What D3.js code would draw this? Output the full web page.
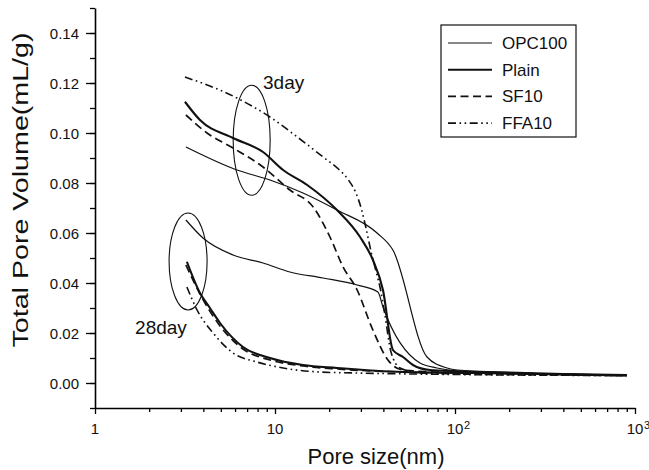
<!DOCTYPE html>
<html>
<head>
<meta charset="utf-8">
<script src="https://cdn.jsdelivr.net/npm/d3@7"></script>
<style>
body { margin: 0; background: #fff; }
text { font-family: "Liberation Sans", Arial, sans-serif; fill: #111; }
</style>
</head>
<body>
<div id="chart"></div>
<script>
// pore size (nm) / total pore volume (mL/g)
var opc100_3d = [[3.2,0.0944],[6.15,0.0852],[9.38,0.0812],[14.3,0.076],[22.1,0.0692],[36.9,0.060],[45.2,0.0532],[69.9,0.0104],[90.3,0.006],[103,0.0052],[200,0.0042],[400,0.0036],[900,0.0032]];
var plain_3d = [[3.16,0.1125],[3.83,0.1052],[5.85,0.098],[8.58,0.0924],[11.1,0.0852],[15.1,0.0792],[22.1,0.0692],[29.7,0.0584],[35.0,0.0492],[39.8,0.0372],[45.2,0.0132],[51.4,0.0104],[58.4,0.0072],[72.6,0.0052],[150,0.0044],[400,0.0036],[900,0.0032]];
var sf10_3d = [[3.2,0.1072],[4.19,0.100],[5.85,0.094],[8.58,0.0864],[12.1,0.0772],[16.3,0.0704],[20.2,0.0584],[23.9,0.0464],[28.6,0.0372],[34.6,0.022],[42.4,0.0092],[51.4,0.0052],[80,0.0044],[200,0.0038],[900,0.003]];
var ffa10_3d = [[3.16,0.1224],[6.15,0.114],[9.38,0.1064],[13.3,0.0984],[18.5,0.0904],[22.5,0.0856],[25.6,0.0812],[28.0,0.0764],[30.2,0.0696],[32.2,0.0612],[34.2,0.0524],[36.5,0.0444],[38.5,0.0376],[40.8,0.0272],[44.1,0.0124],[49.5,0.006],[63.9,0.004],[100,0.0036],[300,0.0032],[900,0.003]];

var opc100_28d = [[3.2,0.0652],[3.98,0.058],[5.85,0.0512],[8.58,0.048],[12.1,0.0444],[18.5,0.042],[28.6,0.0392],[37.3,0.0364],[39.8,0.0304],[63.9,0.008],[79.4,0.006],[103,0.0048],[200,0.004],[400,0.0035],[900,0.0031]];
var plain_28d = [[3.24,0.0485],[3.83,0.036],[4.35,0.030],[4.95,0.024],[6.64,0.0144],[9.38,0.010],[14.3,0.0072],[22.1,0.006],[51.4,0.0044],[150,0.004],[400,0.0034],[900,0.003]];
var sf10_28d = [[3.2,0.0472],[3.83,0.0356],[4.95,0.0228],[6.64,0.0136],[9.38,0.0092],[14.3,0.0068],[22.1,0.0056],[51.4,0.0044],[150,0.0039],[400,0.0033],[900,0.003]];
var ffa10_28d = [[3.24,0.0384],[3.69,0.0292],[4.53,0.020],[5.85,0.012],[7.94,0.0084],[11.1,0.006],[17.8,0.0044],[28.6,0.004],[100,0.0034],[900,0.003]];

var seriesNames = ["OPC100", "Plain", "SF10", "FFA10"];
var xTickLabels = [["1",""],["10",""],["10","2"],["10","3"]];
var yTicks = [0, 0.02, 0.04, 0.06, 0.08, 0.10, 0.12, 0.14];

var styles = {
  OPC100: {width: 1.2, dash: null},
  Plain:  {width: 2.1, dash: null},
  SF10:   {width: 1.7, dash: "8,4.5"},
  FFA10:  {width: 1.6, dash: "8,3.5,1.6,3.5,1.6,3.5"}
};

var curves = [
  {name: "OPC100", data: opc100_3d}, {name: "Plain", data: plain_3d},
  {name: "SF10", data: sf10_3d}, {name: "FFA10", data: ffa10_3d},
  {name: "OPC100", data: opc100_28d}, {name: "Plain", data: plain_28d},
  {name: "SF10", data: sf10_28d}, {name: "FFA10", data: ffa10_28d}
];

var width = 649, height = 470;

var x = d3.scaleLog()
  .domain([1, 1000])
  .range([95, 635]);

var y = d3.scaleLinear()
  .domain([-0.01, 0.15])
  .range([408, 8]);

var svg = d3.select("#chart").append("svg")
  .attr("width", width)
  .attr("height", height);

// y axis with minor ticks
var yMinor = d3.range(-0.01, 0.151, 0.01).map(function(d) { return +d.toFixed(2); });
svg.append("g")
  .attr("transform", "translate(" + x(1) + ",0)")
  .call(d3.axisLeft(y).tickValues(yMinor).tickSize(5).tickFormat(""))
  .call(function(g) { g.select(".domain").remove(); });

var yAxis = svg.append("g")
  .attr("transform", "translate(" + x(1) + ",0)")
  .call(d3.axisLeft(y).tickValues(yTicks).tickSize(9).tickSizeOuter(0).tickPadding(7)
    .tickFormat(d3.format(".2f")));
yAxis.selectAll("text").style("font-size", "15px").attr("dy", "0.35em");

// x axis with log minor ticks
var xMinor = [];
[1, 10, 100].forEach(function(p) {
  for (var k = 2; k <= 9; k++) xMinor.push(p * k);
});
svg.append("g")
  .attr("transform", "translate(0," + y(-0.01) + ")")
  .call(d3.axisBottom(x).tickValues(xMinor).tickSize(4).tickFormat(""))
  .call(function(g) { g.select(".domain").remove(); });

var xAxis = svg.append("g")
  .attr("transform", "translate(0," + y(-0.01) + ")")
  .call(d3.axisBottom(x).tickValues([1, 10, 100, 1000]).tickSize(6).tickSizeOuter(0).tickFormat(""));

svg.selectAll(".domain").attr("stroke-width", 1.6);
svg.selectAll(".tick line").attr("stroke-width", 1.3);

// tick labels: base centred on the tick, exponent after it
var xl = svg.append("g").selectAll("g")
  .data([1, 10, 100, 1000])
  .enter().append("g")
  .attr("transform", function(d) { return "translate(" + x(d) + ",434)"; });
xl.append("text")
  .attr("text-anchor", "middle")
  .style("font-size", "15px")
  .text(function(d, i) { return xTickLabels[i][0]; });
xl.append("text")
  .attr("x", 9)
  .attr("y", -5)
  .style("font-size", "11px")
  .text(function(d, i) { return xTickLabels[i][1]; });

// axis titles
svg.append("text")
  .attr("x", 376)
  .attr("y", 464)
  .attr("text-anchor", "middle")
  .style("font-size", "22px")
  .text("Pore size(nm)");

svg.append("text")
  .attr("transform", "translate(28,190) rotate(-90)")
  .attr("text-anchor", "middle")
  .attr("textLength", 315)
  .attr("lengthAdjust", "spacingAndGlyphs")
  .style("font-size", "22px")
  .text("Total Pore Volume(mL/g)");

// curves
var line = d3.line()
  .x(function(d) { return x(d[0]); })
  .y(function(d) { return y(d[1]); })
  .curve(d3.curveMonotoneX);

svg.append("g").selectAll("path")
  .data(curves)
  .enter().append("path")
  .attr("d", function(d) { return line(d.data); })
  .attr("fill", "none")
  .attr("stroke", "#111")
  .attr("stroke-width", function(d) { return styles[d.name].width; })
  .attr("stroke-dasharray", function(d) { return styles[d.name].dash; });

// annotation ellipses and labels
var notes = [
  {label: "3day", cx: 7.42, cy: 0.0971, rx: 18.5, ry: 55, tx: 8.58, ty: 0.1176},
  {label: "28day", cx: 3.29, cy: 0.0486, rx: 19, ry: 48.5, tx: 1.67, ty: 0.0195}
];
svg.append("g").selectAll("ellipse")
  .data(notes)
  .enter().append("ellipse")
  .attr("cx", function(d) { return x(d.cx); })
  .attr("cy", function(d) { return y(d.cy); })
  .attr("rx", function(d) { return d.rx; })
  .attr("ry", function(d) { return d.ry; })
  .attr("fill", "none")
  .attr("stroke", "#111")
  .attr("stroke-width", 1.1);

svg.append("g").selectAll("text")
  .data(notes)
  .enter().append("text")
  .attr("x", function(d) { return x(d.tx); })
  .attr("y", function(d) { return y(d.ty); })
  .style("font-size", "19px")
  .text(function(d) { return d.label; });

// legend
var legend = svg.append("g").attr("transform", "translate(441,25)");
legend.append("rect")
  .attr("width", 135)
  .attr("height", 112)
  .attr("fill", "#fff")
  .attr("stroke", "#111")
  .attr("stroke-width", 1.2);

var item = legend.selectAll(".item")
  .data(seriesNames)
  .enter().append("g")
  .attr("transform", function(d, i) { return "translate(0," + (18 + i * 26.7) + ")"; });

item.append("line")
  .attr("x1", 7).attr("x2", 51)
  .attr("stroke", "#111")
  .attr("stroke-width", function(d) { return styles[d].width; })
  .attr("stroke-dasharray", function(d) { return styles[d].dash; });

item.append("text")
  .attr("x", 61)
  .attr("dy", "0.35em")
  .style("font-size", "17px")
  .text(function(d) { return d; });
</script>
</body>
</html>
